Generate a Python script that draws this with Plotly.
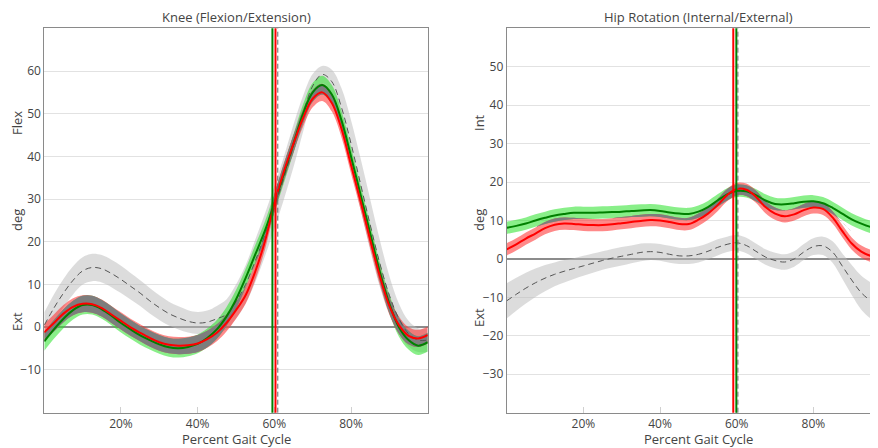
import plotly.graph_objects as go

pct = [i * 2.5 for i in range(41)]

# ---- Knee (Flexion/Extension) ----
knee_green = [-3.3, -0.5, 2, 4, 5.2, 5.2, 4.2, 2.7, 1, -0.5, -1.9, -3, -4, -4.7, -4.9, -4.6, -3.9, -2.5, -0.5, 2.5,
              6.5, 11.5, 17, 22.5, 29, 36, 43, 50, 55, 56.7, 54.5, 48.5, 40, 31, 22, 13, 5.5, 0, -3, -4.3, -3.5]
knee_red = [-1.2, 1, 3.2, 4.8, 5.5, 5.4, 4.5, 3, 1.5, 0, -1.3, -2.5, -3.5, -4.1, -4.3, -4.2, -3.8, -2.8, -1.3, 1,
            4, 7.5, 13, 20, 29, 36.5, 43, 49, 53.5, 55, 52.5, 46.5, 38, 29.5, 20.5, 12, 5, 0.5, -2, -2.6, -1.8]
knee_norm = [0.5, 4.5, 8, 11, 13.2, 14, 13.7, 12.6, 11.2, 9.6, 8, 6.2, 4.6, 3.2, 2.2, 1.4, 1, 1.2, 2, 3,
             6, 10, 15.5, 21.5, 28, 35, 42.5, 50, 56.5, 59.2, 57.5, 51.5, 43, 33.5, 24, 15, 7.5, 2, -1.5, -3, -3]
knee_norm_sd = [3, 3.2, 3.3, 3.3, 3.2, 3.2, 3.2, 3.2, 3.2, 3.1, 3, 3, 2.9, 2.8, 2.7, 2.6, 2.6, 2.7, 3, 3.5,
                4, 4.5, 5, 5, 5, 5, 5, 4.2, 2.8, 2, 2.8, 4.5, 5.5, 6, 6, 5.5, 4.5, 3.5, 3, 2.8, 2.8]
knee_green_sd = [2.2] * 41
knee_red_sd = [2.0] * 41
knee_events = {"green": 59.5, "red": 60.3, "norm": 60.9}

# ---- Hip Rotation (Internal/External) ----
hip_green = [8.1, 8.6, 9.2, 10, 10.7, 11.3, 11.7, 12, 12, 12, 12.1, 12.2, 12.3, 12.5, 12.6, 12.7, 12.5, 12.1, 11.8, 11.7,
             12.3, 13.5, 15.2, 16.8, 17.7, 17.6, 16.6, 15.2, 14.3, 14.2, 14.5, 14.9, 15, 14.5, 13.3, 11.8, 10.3, 9.2, 8.3, 7.7, 7.3]
hip_red = [2.5, 3.8, 5.3, 6.6, 8, 8.9, 9.2, 9.1, 8.9, 8.8, 8.8, 9, 9.3, 9.6, 9.9, 10.1, 10, 9.6, 9.1, 9.1,
           10.2, 11.8, 14, 16.6, 18.2, 18, 16.2, 13.5, 11.8, 11.1, 11.6, 12.7, 13.4, 13, 10.8, 7.3, 4, 1.9, 0.8, 0.5, 0.5]
hip_norm = [-10.9, -9.2, -7.6, -6.2, -5, -4, -3.2, -2.5, -1.8, -1.1, -0.4, 0.2, 0.7, 1.2, 1.7, 1.9, 1.7, 1.2, 0.8, 0.8,
            1.2, 2, 3, 3.8, 4.2, 3.5, 2, 0.5, -0.4, -0.8, 0, 1.8, 3.2, 3.4, 1.8, -1.8, -5.5, -8.8, -10.8, -11.7, -12]
hip_norm_sd = [4.6, 4.3, 4, 3.7, 3.4, 3.1, 2.9, 2.7, 2.6, 2.5, 2.4, 2.4, 2.4, 2.3, 2.3, 2.2, 2.2, 2.2, 2.1, 2.1,
               2.1, 2.1, 2.1, 2, 2, 2, 2, 2, 2, 2, 2, 2.1, 2.2, 2.4, 2.8, 3.3, 3.9, 4.4, 4.7, 4.8, 4.8]
hip_green_sd = [1.6] * 41
hip_red_sd = [1.6] * 41
hip_events = {"red": 59.1, "green": 59.9, "norm": 60.3}

x_ticks = [20, 40, 60, 80]
x_ticktext = ["20%", "40%", "60%", "80%"]
knee_yticks = [-10, 0, 10, 20, 30, 40, 50, 60]
hip_yticks = [-30, -20, -10, 0, 10, 20, 30, 40, 50]

FONT = "Open Sans"
TXT = "#444"
OFF = 8  # page body margin
W, H = 878 - OFF, 448 - OFF

GREEN_BAND = "rgba(40,225,40,0.55)"
RED_BAND = "rgba(255,40,40,0.55)"
NORM_BAND = "rgba(185,185,185,0.5)"
OVER_BAND = "rgb(125,125,125)"

fig = go.Figure()


def px(v):
    return (v - OFF) / W


def py(v):
    return 1 - (v - OFF) / H


def band(xa, ya, x, mean, sd, color):
    lo = [m - s for m, s in zip(mean, sd)]
    hi = [m + s for m, s in zip(mean, sd)]
    fig.add_trace(go.Scatter(x=x, y=lo, mode="lines", line=dict(width=0, shape="spline"),
                             xaxis=xa, yaxis=ya, hoverinfo="skip", showlegend=False))
    fig.add_trace(go.Scatter(x=x, y=hi, mode="lines", line=dict(width=0, shape="spline"),
                             fill="tonexty", fillcolor=color,
                             xaxis=xa, yaxis=ya, hoverinfo="skip", showlegend=False))


def panel(xa, ya, g, gsd, r, rsd, n, nsd):
    band(xa, ya, pct, n, nsd, NORM_BAND)
    band(xa, ya, pct, g, gsd, GREEN_BAND)
    band(xa, ya, pct, r, rsd, RED_BAND)
    # overlap of the two subject bands
    olo, ohi = [], []
    for gm, gs, rm, rs in zip(g, gsd, r, rsd):
        lo = max(gm - gs, rm - rs)
        hi = min(gm + gs, rm + rs)
        if hi < lo:
            mid = (lo + hi) / 2
            lo = hi = mid
        olo.append(lo)
        ohi.append(hi)
    fig.add_trace(go.Scatter(x=pct, y=olo, mode="lines", line=dict(width=0, shape="spline"),
                             xaxis=xa, yaxis=ya, hoverinfo="skip", showlegend=False))
    fig.add_trace(go.Scatter(x=pct, y=ohi, mode="lines", line=dict(width=0, shape="spline"),
                             fill="tonexty", fillcolor=OVER_BAND,
                             xaxis=xa, yaxis=ya, hoverinfo="skip", showlegend=False))
    fig.add_trace(go.Scatter(x=pct, y=n, mode="lines",
                             line=dict(color="#555", width=1, dash="6px,4px", shape="spline"),
                             xaxis=xa, yaxis=ya, showlegend=False))
    fig.add_trace(go.Scatter(x=pct, y=g, mode="lines",
                             line=dict(color="#008000", width=2, shape="spline"),
                             xaxis=xa, yaxis=ya, showlegend=False))
    fig.add_trace(go.Scatter(x=pct, y=r, mode="lines",
                             line=dict(color="#ff0000", width=2, shape="spline"),
                             xaxis=xa, yaxis=ya, showlegend=False))


panel("x", "y", knee_green, knee_green_sd, knee_red, knee_red_sd, knee_norm, knee_norm_sd)
panel("x2", "y2", hip_green, hip_green_sd, hip_red, hip_red_sd, hip_norm, hip_norm_sd)


def event_lines(xref, yref, ev):
    fig.add_shape(type="line", xref=xref, yref=yref + " domain", x0=ev["green"], x1=ev["green"], y0=0, y1=1,
                  line=dict(color="#008000", width=2), layer="above")
    fig.add_shape(type="line", xref=xref, yref=yref + " domain", x0=ev["red"], x1=ev["red"], y0=0, y1=1,
                  line=dict(color="#ff0000", width=2), layer="above")
    fig.add_shape(type="line", xref=xref, yref=yref + " domain", x0=ev["norm"], x1=ev["norm"], y0=0, y1=1,
                  line=dict(color="#666", width=1, dash="5px,3px"), layer="above")


event_lines("x", "y", knee_events)
event_lines("x2", "y2", hip_events)

ydom = [py(412.7), py(28.3)]
tickfont = dict(family=FONT, size=12, color=TXT)
fig.update_layout(
    width=W, height=H, margin=dict(l=0, r=0, t=0, b=0),
    paper_bgcolor="white", plot_bgcolor="white",
    font=dict(family=FONT, color=TXT),
    showlegend=False,
    xaxis=dict(domain=[px(44.3), px(427.7)], range=[0, 100], tickvals=x_ticks, ticktext=x_ticktext,
               ticks="inside", ticklen=6, tickcolor="#d0d0d0", mirror=True, zeroline=False,
               showgrid=False, showline=True, linecolor="#8a8a8a", linewidth=1, tickfont=tickfont),
    yaxis=dict(domain=ydom, range=[-20, 70], tickvals=knee_yticks, ticks="", mirror=True,
               showgrid=True, gridcolor="#e2e2e2", gridwidth=1,
               zeroline=True, zerolinecolor="#8c8c8c", zerolinewidth=1.5,
               showline=True, linecolor="#8a8a8a", linewidth=1, tickfont=tickfont),
    xaxis2=dict(domain=[px(506.7), 1.0], range=[0, 96.85], tickvals=x_ticks, ticktext=x_ticktext,
                ticks="inside", ticklen=6, tickcolor="#d0d0d0", mirror=True, zeroline=False, anchor="y2",
                showgrid=False, showline=True, linecolor="#8a8a8a", linewidth=1, tickfont=tickfont),
    yaxis2=dict(domain=ydom, range=[-40, 60], tickvals=hip_yticks, ticks="", mirror=False, anchor="x2",
                showgrid=True, gridcolor="#e2e2e2", gridwidth=1,
                zeroline=True, zerolinecolor="#8c8c8c", zerolinewidth=1.5,
                showline=True, linecolor="#8a8a8a", linewidth=1, tickfont=tickfont),
)


def text(xpx, ypx, s, size=13, angle=0):
    fig.add_annotation(x=px(xpx), y=py(ypx), xref="paper", yref="paper", text=s, showarrow=False,
                       textangle=angle, font=dict(family=FONT, size=size, color=TXT),
                       xanchor="center", yanchor="middle")


text(236, 17, "Knee (Flexion/Extension)")
text(698, 17, "Hip Rotation (Internal/External)")
text(236, 439, "Percent Gait Cycle")
text(698, 439, "Percent Gait Cycle")
text(17, 123, "Flex", angle=-90)
text(17, 220, "deg", angle=-90)
text(17, 322, "Ext", angle=-90)
text(479, 123, "Int", angle=-90)
text(479, 220, "deg", angle=-90)
text(479, 318, "Ext", angle=-90)

fig.write_html("out.html")
